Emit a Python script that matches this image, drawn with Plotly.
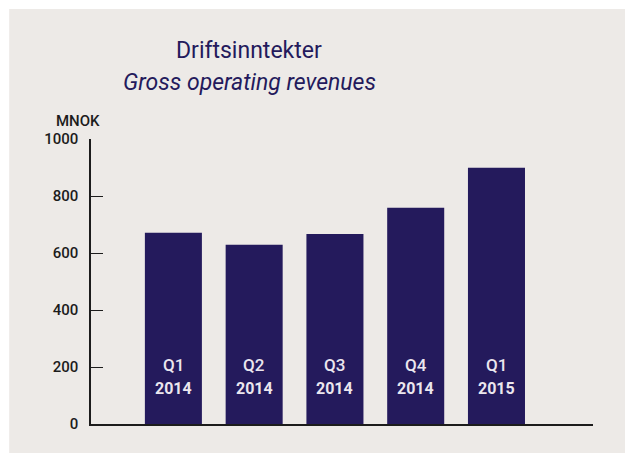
import plotly.graph_objects as go

# Revenue per quarter, MNOK
quarters = ["Q1", "Q2", "Q3", "Q4", "Q1"]
years = ["2014", "2014", "2014", "2014", "2015"]
revenues = [671, 629, 667, 759, 899]
categories = [q + " " + y for q, y in zip(quarters, years)]
y_ticks = [0, 200, 400, 600, 800, 1000]

navy = "#241a5c"
panel = "#edeae7"
ink = "#1c1c1c"
label_col = "#ebe6ee"

fig = go.Figure(go.Bar(x=categories, y=revenues, marker_color=navy, marker_line_width=0))

# quarter / year labels inside the bars
for c, q, y in zip(categories, quarters, years):
    fig.add_annotation(x=c, y=0, yref="y", text=q, showarrow=False, yshift=59,
                       font=dict(family="Roboto", size=17, weight=500, color=label_col))
    fig.add_annotation(x=c, y=0, yref="y", text=y, showarrow=False, yshift=36,
                       font=dict(family="Roboto", size=16, weight=700, color=label_col))

# title lines
fig.add_annotation(x=0.315, y=1.309, xref="paper", yref="paper", text="Driftsinntekter",
                   xanchor="center", yanchor="middle", showarrow=False,
                   font=dict(family="Roboto", size=23, color=navy))
fig.add_annotation(x=0.315, y=1.2, xref="paper", yref="paper", text="<i>Gross operating revenues</i>",
                   xanchor="center", yanchor="middle", showarrow=False,
                   font=dict(family="Roboto", size=23, color=navy))
fig.add_annotation(x=-0.026, y=1.063, xref="paper", yref="paper", text="MNOK",
                   xanchor="center", yanchor="middle", showarrow=False,
                   font=dict(family="Roboto", size=15, weight=500, color=ink))

# light panel behind the chart
fig.add_shape(type="rect", xref="paper", yref="paper", x0=-0.163, x1=1.078, y0=-0.102, y1=1.456,
              fillcolor=panel, line_width=0, layer="below")

# page body adds an 8px offset, so margins are shifted to compensate
fig.update_layout(
    width=633, height=457,
    margin=dict(l=83, r=48, t=131, b=41),
    paper_bgcolor="white", plot_bgcolor=panel,
    bargap=0.294, showlegend=False,
)
fig.update_xaxes(range=[-1.02, 5.195], showline=True, linecolor=ink, linewidth=1.5,
                 showticklabels=False, ticks="", showgrid=False, zeroline=False)
fig.update_yaxes(range=[0, 1000], tickvals=y_ticks, showline=True, linecolor=ink, linewidth=1.5,
                 ticks="inside", ticklen=12, tickcolor=ink, tickwidth=1.2, ticklabelstandoff=8,
                 tickfont=dict(family="Roboto", size=15, weight=500, color=ink),
                 showgrid=False, zeroline=False)

fig.write_html("out.html")
